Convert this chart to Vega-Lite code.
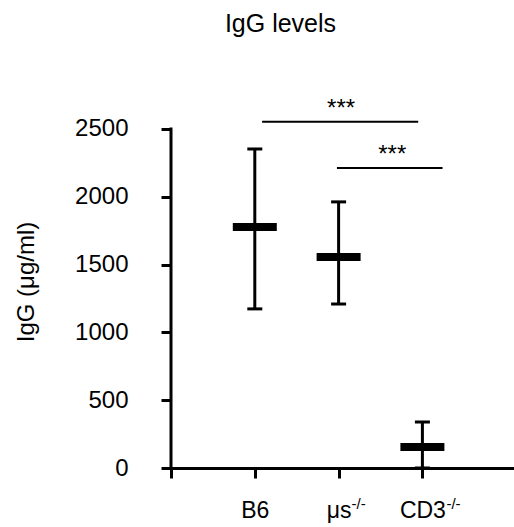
{
  "$schema": "https://vega.github.io/schema/vega-lite/v6.json",
  "autosize": "none",
  "padding": {"left": 171, "top": 95, "right": 0, "bottom": 59},
  "width": 343,
  "height": 373,
  "background": "white",
  "title": {
    "text": "IgG levels",
    "font": "Liberation Sans",
    "fontSize": 25,
    "fontWeight": "normal",
    "color": "black",
    "anchor": "middle",
    "frame": "group",
    "dx": -62,
    "offset": 58
  },
  "datasets": {
    "groups": [
      {"group": "B6", "pos": 1, "mean": 1777, "low": 1173, "high": 2352},
      {"group": "μs-/-", "pos": 2, "mean": 1556, "low": 1209, "high": 1962},
      {"group": "CD3-/-", "pos": 3, "mean": 155, "low": 0, "high": 339}
    ],
    "sig": [
      {"from": 1.087, "to": 2.95, "level": 2552, "starX": 2.03, "starY": 2596, "label": "***"},
      {"from": 1.98, "to": 3.24, "level": 2212, "starX": 2.64, "starY": 2257, "label": "***"}
    ]
  },
  "config": {
    "view": {"stroke": null},
    "axis": {
      "grid": false,
      "domainColor": "black",
      "domainWidth": 3,
      "tickColor": "black",
      "tickWidth": 3,
      "tickSize": 10,
      "labelColor": "black",
      "labelFont": "Liberation Sans",
      "titleFont": "Liberation Sans",
      "titleColor": "black",
      "titleFontWeight": "normal"
    }
  },
  "layer": [
    {
      "data": {"values": [{"a": 0}]},
      "mark": {"type": "rule", "color": "black", "strokeWidth": 3, "strokeCap": "square"},
      "encoding": {
        "x": {"datum": 0, "type": "quantitative", "scale": {"domain": [0, 4.093], "nice": false},
          "axis": {"values": [0, 1, 2, 3], "labelFontSize": 23, "labelPadding": 21, "title": null,
            "labelExpr": "datum.value == 1 ? 'B6' : datum.value == 2 ? 'μs' : datum.value == 3 ? 'CD3' : ''"}},
        "y": {"datum": 0, "type": "quantitative", "scale": {"domain": [0, 2750], "nice": false},
          "axis": {"values": [0, 500, 1000, 1500, 2000, 2500], "format": "d", "domain": false, "labelFontSize": 24, "labelPadding": 33,
            "title": "IgG (μg/ml)", "titleFontSize": 24, "titlePadding": 36}},
        "y2": {"datum": 2500}
      }
    },
    {
      "data": {"name": "groups"},
      "mark": {"type": "rule", "color": "black", "strokeWidth": 3},
      "encoding": {
        "x": {"field": "pos", "type": "quantitative"},
        "y": {"field": "low", "type": "quantitative"},
        "y2": {"field": "high"}
      }
    },
    {
      "data": {"name": "groups"},
      "mark": {"type": "tick", "orient": "horizontal", "color": "black", "size": 15, "thickness": 3, "opacity": 1},
      "encoding": {
        "x": {"field": "pos", "type": "quantitative"},
        "y": {"field": "high", "type": "quantitative"}
      }
    },
    {
      "data": {"name": "groups"},
      "mark": {"type": "tick", "orient": "horizontal", "color": "black", "size": 15, "thickness": 3, "opacity": 1},
      "encoding": {
        "x": {"field": "pos", "type": "quantitative"},
        "y": {"field": "low", "type": "quantitative"}
      }
    },
    {
      "data": {"name": "groups"},
      "mark": {"type": "tick", "orient": "horizontal", "color": "black", "size": 44, "thickness": 8, "opacity": 1},
      "encoding": {
        "x": {"field": "pos", "type": "quantitative"},
        "y": {"field": "mean", "type": "quantitative"}
      }
    },
    {
      "data": {"name": "sig"},
      "mark": {"type": "rule", "color": "black", "strokeWidth": 2},
      "encoding": {
        "x": {"field": "from", "type": "quantitative"},
        "x2": {"field": "to"},
        "y": {"field": "level", "type": "quantitative"}
      }
    },
    {
      "data": {"name": "sig"},
      "mark": {"type": "text", "font": "Liberation Sans", "fontSize": 24, "color": "black", "align": "center", "baseline": "alphabetic"},
      "encoding": {
        "x": {"field": "starX", "type": "quantitative"},
        "y": {"field": "starY", "type": "quantitative"},
        "text": {"field": "label"}
      }
    },
    {
      "data": {"values": [{"pos": 2, "sup": "-/-"}]},
      "mark": {"type": "text", "font": "Liberation Sans", "fontSize": 15, "color": "black", "align": "left", "baseline": "alphabetic", "dx": 13},
      "encoding": {
        "x": {"field": "pos", "type": "quantitative"},
        "y": {"datum": -300, "type": "quantitative"},
        "text": {"field": "sup"}
      }
    },
    {
      "data": {"values": [{"pos": 3, "sup": "-/-"}]},
      "mark": {"type": "text", "font": "Liberation Sans", "fontSize": 15, "color": "black", "align": "left", "baseline": "alphabetic", "dx": 24},
      "encoding": {
        "x": {"field": "pos", "type": "quantitative"},
        "y": {"datum": -300, "type": "quantitative"},
        "text": {"field": "sup"}
      }
    }
  ]
}
